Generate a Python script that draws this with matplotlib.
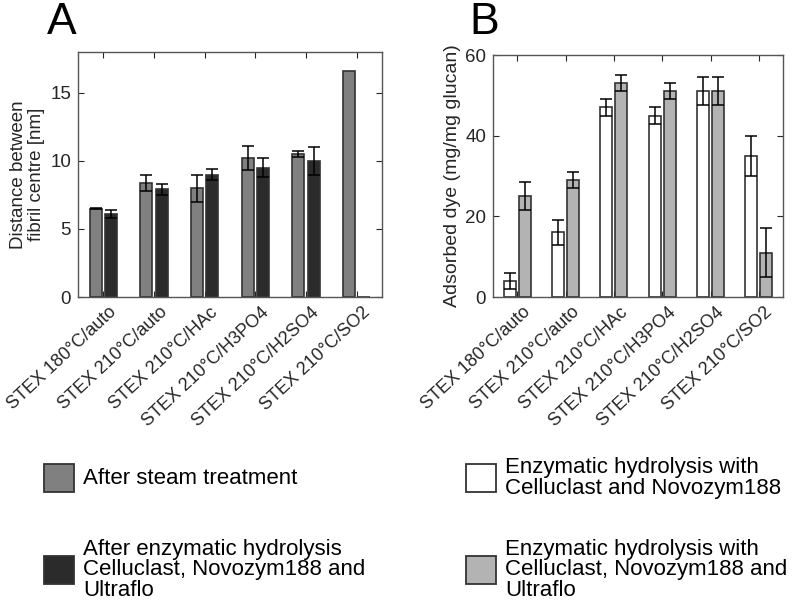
import matplotlib
matplotlib.use("Agg")
import matplotlib.pyplot as plt
import matplotlib.transforms as mtransforms
from matplotlib.patches import Rectangle
import numpy as np

plt.rcParams["font.family"] = ["Liberation Sans", "DejaVu Sans"]

categories = ["STEX 180\u00b0C/auto", "STEX 210\u00b0C/auto", "STEX 210\u00b0C/HAc",
              "STEX 210\u00b0C/H3PO4", "STEX 210\u00b0C/H2SO4", "STEX 210\u00b0C/SO2"]

# Panel A: distance between fibril centre [nm]
steam = [6.5, 8.4, 8.0, 10.2, 10.5, 16.6]
steam_err = [0.05, 0.6, 1.0, 0.9, 0.25, np.nan]
enzym = [6.1, 7.9, 9.0, 9.5, 10.0, 0.0]
enzym_err = [0.3, 0.4, 0.4, 0.7, 1.0, np.nan]

# Panel B: adsorbed dye (mg/mg glucan)
dye_cn = [4, 16, 47, 45, 51, 35]
dye_cn_err = [2, 3, 2, 2, 3.5, 5]
dye_cnu = [25, 29, 53, 51, 51, 11]
dye_cnu_err = [3.5, 2, 2, 2, 3.5, 6]

legend_a = ["After steam treatment",
            "After enzymatic hydrolysis\nCelluclast, Novozym188 and\nUltraflo"]
legend_b = ["Enzymatic hydrolysis with\nCelluclast and Novozym188",
            "Enzymatic hydrolysis with\nCelluclast, Novozym188 and\nUltraflo"]

c_steam, c_enz = "#808080", "#2b2b2b"
c_white, c_grey = "#ffffff", "#b3b3b3"
edge = "#333333"
txt = "#262626"

fig = plt.figure(figsize=(7.97, 6.04), dpi=100)
W, H = 797, 604
axA = fig.add_axes([78 / W, 1 - 297 / H, 304 / W, 245 / H])
axB = fig.add_axes([493 / W, 1 - 297 / H, 290 / W, 242 / H])

x = np.arange(1, len(categories) + 1)


def grouped(ax, v1, e1, c1, v2, e2, c2, off, width):
    ax.bar(x - off, v1, width, color=c1, edgecolor=edge, linewidth=1.2, zorder=2)
    ax.bar(x + off, v2, width, color=c2, edgecolor=edge, linewidth=1.2, zorder=2)
    ax.errorbar(x - off, v1, yerr=e1, fmt="none", ecolor="black", elinewidth=1.1,
                capsize=4, capthick=1.1, zorder=3)
    ax.errorbar(x + off, v2, yerr=e2, fmt="none", ecolor="black", elinewidth=1.1,
                capsize=4, capthick=1.1, zorder=3)


def style(ax, ylim, yticks):
    ax.set_xlim(0.5, len(categories) + 0.5)
    ax.set_ylim(*ylim)
    ax.set_yticks(yticks)
    ax.set_xticks(x)
    ax.tick_params(direction="in", top=True, right=True, length=4, width=0.8,
                   labelsize=13.5, colors=txt, pad=5)
    ax.set_xticklabels(categories, rotation=43, ha="right", va="center",
                       rotation_mode="anchor", fontsize=13, color=txt)
    shift = mtransforms.ScaledTranslation(11 / 100, -6 / 100, fig.dpi_scale_trans)
    for lab in ax.get_xticklabels():
        lab.set_transform(lab.get_transform() + shift)
    for s in ax.spines.values():
        s.set_color("#555555")
        s.set_linewidth(1.0)


grouped(axA, steam, steam_err, c_steam, enzym, enzym_err, c_enz, 0.15, 0.24)
style(axA, (0, 18), [0, 5, 10, 15])
axA.set_ylabel("Distance between\nfibril centre [nm]", fontsize=13.5, color=txt,
               labelpad=4, linespacing=1.05)

grouped(axB, dye_cn, dye_cn_err, c_white, dye_cnu, dye_cnu_err, c_grey, 0.155, 0.25)
style(axB, (0, 60), [0, 20, 40, 60])
axB.set_ylabel("Adsorbed dye (mg/mg glucan)", fontsize=14, color=txt, labelpad=3)

fig.text(47 / W, 1 - 22 / H, "A", fontsize=32, va="center", ha="left", color="black")
fig.text(469 / W, 1 - 22 / H, "B", fontsize=32, va="center", ha="left", color="black")

# legends below the panels
for (bx, tx), labels, colors in [((44, 83), legend_a, [c_steam, c_enz]),
                                 ((466, 505), legend_b, [c_white, c_grey])]:
    for yc, lab, col in zip([478, 570], labels, colors):
        fig.patches.append(Rectangle((bx / W, 1 - (yc + 14) / H), 30 / W, 28 / H,
                                     transform=fig.transFigure, facecolor=col,
                                     edgecolor=edge, linewidth=1.3))
        fig.text(tx / W, 1 - yc / H, lab, fontsize=16, va="center", ha="left",
                 color="black", linespacing=1.0)

fig.savefig("out.png", dpi=100)
